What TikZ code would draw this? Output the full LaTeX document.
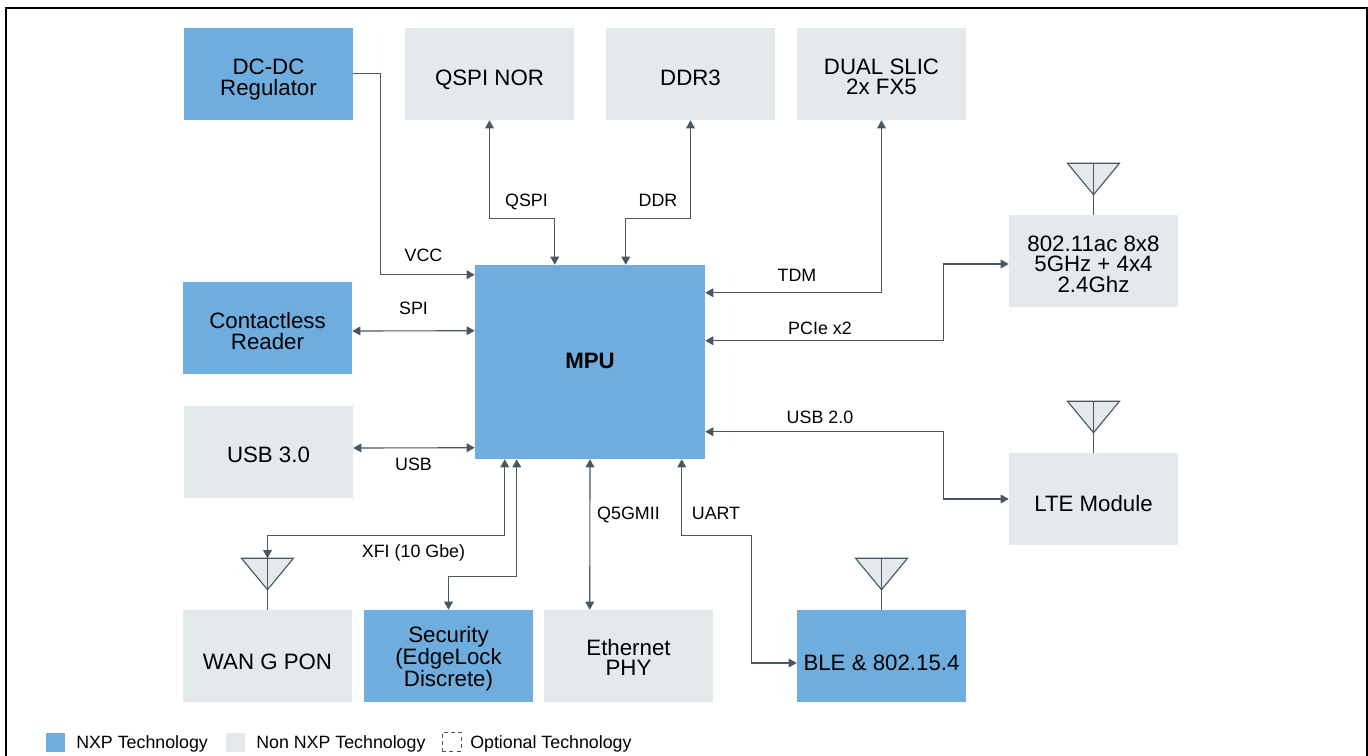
\documentclass[tikz,border=0pt]{standalone}
\usepackage{fontspec}
\setmainfont{Liberation Sans}
\usetikzlibrary{arrows.meta,calc}
\definecolor{nxpblue}{HTML}{6FADDF}
\definecolor{nongray}{HTML}{E4E9EC}
\definecolor{linecol}{HTML}{4A5761}
\tikzset{
  x=0.75pt,y=-0.75pt,
  boxbase/.style={inner sep=0pt,minimum width=126.75pt,minimum height=69pt},
  nxpbox/.style={boxbase,fill=nxpblue},
  graybox/.style={boxbase,fill=nongray},
  boxtext/.style={inner sep=0pt,align=center,text=black,font=\fontsize{16.7}{15}\selectfont},
  conn/.style={draw=linecol,line width=0.85pt,{Triangle[length=6pt,width=6.5pt,fill=linecol]}-{Triangle[length=6pt,width=6.5pt,fill=linecol]}},
  connone/.style={draw=linecol,line width=0.85pt,-{Triangle[length=6pt,width=6.5pt,fill=linecol]}},
  stem/.style={draw=linecol,line width=0.85pt},
  antenna/.style={draw=linecol,line width=0.85pt,fill=nongray,line join=miter},
  lab/.style={inner sep=0pt,text height=9.6pt,text depth=0pt,font=\fontsize{13.4}{15}\selectfont,text=black},
  legendtext/.style={inner sep=0pt,anchor=west,text height=9.5pt,text depth=0pt,font=\fontsize{13.35}{15}\selectfont,text=black},
  swatch/.style={inner sep=0pt,minimum width=14.25pt,minimum height=14.25pt}
}
% style, name, centre x, centre y, text offset (px), text
\newcommand{\blockbox}[6]{%
  \node[#1] (#2) at (#3,#4) {};
  \node[boxtext] (#2-text) at ($(#2.center)+(0,#5)$) {#6};
}
\newcommand{\ls}{\vrule height 9pt depth 3pt width 0pt\relax}
\begin{document}
\begin{tikzpicture}
\useasboundingbox (0,0) rectangle (1368,756);
\begin{scope}
\clip (0,0) rectangle (1368,756);
\draw[black,line width=1.8pt] (6,770) -- (6,8) -- (1367,8) -- (1367,770);
\end{scope}

% boxes
\blockbox{nxpbox}{dcdc}{268.5}{74}{5.5}{\ls DC-DC\\\ls Regulator}
\blockbox{graybox}{qspi}{489.5}{74}{6}{\ls QSPI NOR}
\blockbox{graybox}{ddr}{690.5}{74}{6}{\ls DDR3}
\blockbox{graybox}{slic}{881.5}{74}{5}{\ls DUAL SLIC\\\ls 2x FX5}
\blockbox{graybox}{wifi}{1093.5}{261}{5}{\ls 802.11ac 8x8\\\ls 5GHz + 4x4\\\ls 2.4Ghz}
\blockbox{graybox}{lte}{1093.5}{499}{6}{\ls LTE Module}
\blockbox{nxpbox,minimum width=172.5pt,minimum height=145.5pt}{mpu}{590}{362}{1}{\bfseries\ls MPU}
\blockbox{nxpbox}{contact}{267.5}{328}{5}{\ls Contactless\\\ls Reader}
\blockbox{graybox}{usb}{268.5}{452}{5}{\ls USB 3.0}
\blockbox{graybox}{wan}{267.5}{656}{8}{\ls WAN G PON}
\blockbox{nxpbox}{sec}{448.5}{656}{3}{\ls Security\\\ls (EdgeLock\\\ls Discrete)}
\blockbox{graybox}{eth}{628.5}{656}{3}{\ls Ethernet\\\ls PHY}
\blockbox{nxpbox}{ble}{881.5}{656}{9}{\ls BLE \& 802.15.4}

% antennas
\foreach \nm/\bx in {antwifi/wifi,antlte/lte,antble/ble,antwan/wan}{
  \coordinate (\nm) at ($(\bx.north)+(0,-51.5)$);
  \draw[antenna] ($(\nm)+(-26,0)$) -- ($(\nm)+(26,0)$) -- ($(\nm)+(0,31.5)$) -- cycle;
  \draw[stem] (\nm) -- (\bx.north);
}

% connectors
\draw[connone] ($(dcdc.north east)+(0,45.5)$) -- ++(27,0) |- ($(mpu.north west)+(0,10)$);
\draw[conn] (qspi.south) -- ($(qspi.south)+(0,98)$) -| ($(mpu.north west)+(80,0)$);
\draw[conn] (ddr.south) -- ($(ddr.south)+(0,98)$) -| ($(mpu.north west)+(151,0)$);
\draw[conn] ($(mpu.north east)+(0,28)$) -| (slic.south);
\draw[conn] ($(mpu.north east)+(0,76)$) -- ++(238.5,0) |- ($(wifi.west)+(0,3)$);
\draw[conn] ($(mpu.north east)+(0,167)$) -- ++(238.5,0) |- (lte.west);
\draw[conn] ($(contact.east)+(0,3)$) -- ($(mpu.north west)+(0,66)$);
\draw[conn] ($(usb.east)+(0,-4)$) -- ($(mpu.north west)+(0,183)$);
\draw[conn] ($(mpu.south west)+(30,0)$) -- ++(0,76) -| (antwan);
\draw[conn] ($(mpu.south west)+(42,0)$) -- ++(0,117) -| (sec.north);
\draw[conn] (mpu.south) -- ($(eth.north west)+(46,0)$);
\draw[conn] ($(mpu.south west)+(207,0)$) -- ++(0,76) -- ++(70,0) |- ($(ble.west)+(0,7)$);

% labels
\node[lab] (lvcc) at (423.5,255) {VCC};
\node[lab] (lspi) at (413.5,308) {SPI};
\node[lab] (lusb) at (413.5,464) {USB};
\node[lab] (lqspi) at (526.5,200) {QSPI};
\node[lab] (lddr) at (658,200) {DDR};
\node[lab] (ltdm) at (797,275) {TDM};
\node[lab] (lpcie) at (820,328) {PCIe x2};
\node[lab] (lusbb) at (820,417) {USB 2.0};
\node[lab] (lq5) at (628.5,513) {Q5GMII};
\node[lab] (luart) at (716,513) {UART};
\node[lab] (lxfi) at (413.5,551) {XFI (10 Gbe)};

% legend
\node[swatch,fill=nxpblue] (s1) at (55.5,742.5) {};
\node[legendtext] (t1) at (76,742) {NXP Technology};
\node[swatch,fill=nongray] (s2) at (235.5,742.5) {};
\node[legendtext] (t2) at (256,742) {Non NXP Technology};
\node[swatch,draw=linecol,line width=0.6pt,dash pattern=on 3pt off 2.5pt] (s3) at (451.5,741.5) {};
\node[legendtext] (t3) at (470,742) {Optional Technology};
\end{tikzpicture}
\end{document}
